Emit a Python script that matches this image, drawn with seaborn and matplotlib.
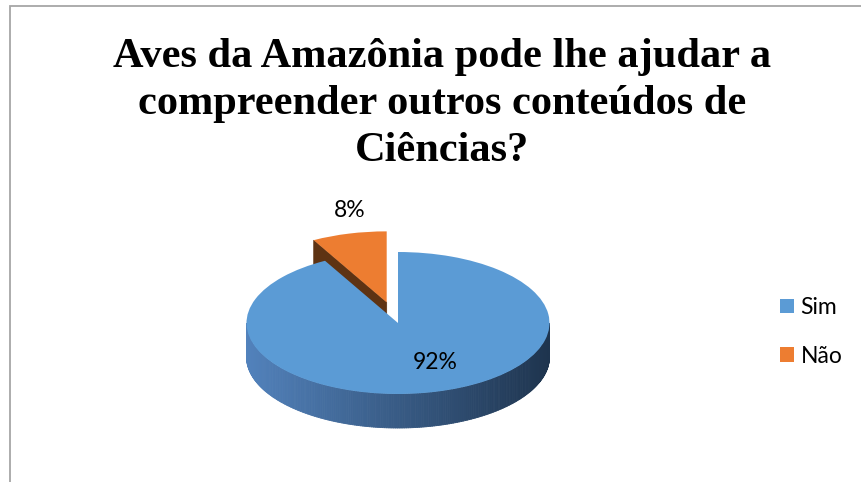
import numpy as np
import matplotlib
matplotlib.use("Agg")
import matplotlib.pyplot as plt
from matplotlib.patches import Patch, Polygon, Rectangle
from matplotlib.collections import PolyCollection
import seaborn as sns

# data
categorias = ["Sim", "Não"]
valores = [92, 8]
titulo = "Aves da Amazônia pode lhe ajudar a\ncompreender outros conteúdos de\nCiências?"

cores = ["#5B9BD5", "#ED7D31"]
cor_face = "#5E3313"

sns.set_theme(style="white")
plt.rcParams["font.family"] = ["Lato", "DejaVu Sans"]
plt.rcParams["text.color"] = "black"

W, H = 862, 482
fig = plt.figure(figsize=(W / 100, H / 100), dpi=100)
ax = fig.add_axes([0, 0, 1, 1])

# ellipse geometry in pixels
cx, cy = 398, 323
rx, ry = 151.5, 71
prof = 34 / ry

wedges, _ = ax.pie(valores, colors=cores, startangle=90, counterclock=False,
                   explode=[0, 0.3], radius=1, center=(0, 0),
                   wedgeprops=dict(linewidth=0))
ax.set_aspect("auto")
ax.set_xlim(-cx / rx, (W - cx) / rx)
ax.set_ylim(-(H - cy) / ry, cy / ry)
ax.axis("off")

def cor_lado(c):
    t = (c + 1) / 2
    a = np.array([82, 130, 188]) / 255
    b = np.array([30, 52, 78]) / 255
    return tuple(a + (b - a) * t)

# fake 3d: side walls and radial faces
for i, w in enumerate(wedges):
    ox, oy = w.center
    t1, t2 = w.theta1, w.theta2
    base_z = 1 if i == 1 else 3
    w.set_zorder(base_z + 1)
    # radial faces
    for t, n in [(t1, t1 - 90), (t2, t2 + 90)]:
        if np.sin(np.radians(n)) < -0.01:
            ex, ey = ox + np.cos(np.radians(t)), oy + np.sin(np.radians(t))
            face = Polygon([(ox, oy), (ex, ey), (ex, ey - prof), (ox, oy - prof)],
                           closed=True, fc=cor_face, ec=cor_face, lw=0.5, zorder=base_z)
            ax.add_patch(face)
    # outer wall (front part)
    th = np.radians(np.linspace(t1, t2, 400))
    frente = np.sin(th) < 0
    quads, qcores = [], []
    for a, b, fa, fb in zip(th[:-1], th[1:], frente[:-1], frente[1:]):
        if fa and fb:
            p1 = (ox + np.cos(a), oy + np.sin(a))
            p2 = (ox + np.cos(b), oy + np.sin(b))
            quads.append([p1, p2, (p2[0], p2[1] - prof), (p1[0], p1[1] - prof)])
            qcores.append(cor_lado(np.cos((a + b) / 2)))
    if quads:
        pc = PolyCollection(quads, facecolors=qcores, edgecolors=qcores,
                            linewidths=0.6, zorder=base_z)
        ax.add_collection(pc)

# percentage labels
pos_rot = [(0.245, -0.56), (-0.317, 1.59)]
for v, (px, py) in zip(valores, pos_rot):
    ax.text(px, py, f"{v}%", ha="center", va="center", fontsize=16.5,
            color="black", zorder=10)

fig.text(442 / W, 1 - 104 / H, titulo, ha="center", va="center",
         fontsize=30.5, fontweight="bold", family=["Liberation Serif", "DejaVu Serif"],
         linespacing=1.32, color="black")

handles = [Patch(facecolor=c, edgecolor="none") for c in cores]
leg = fig.legend(handles, categorias, loc="center left",
                 bbox_to_anchor=(780 / W, 1 - 332 / H), frameon=False, fontsize=16.5,
                 handlelength=0.6, handleheight=0.6, handletextpad=0.3,
                 labelspacing=1.2, borderpad=0, borderaxespad=0)
for t in leg.get_texts():
    t.set_color("black")

# chart frame (cropped at right and bottom)
fig.add_artist(Rectangle((10 / W, -0.1), 2, 1.1 - 6 / H, transform=fig.transFigure,
                         fill=False, ec="#A6A6A6", lw=1.3))

fig.savefig("out.png", dpi=100)
